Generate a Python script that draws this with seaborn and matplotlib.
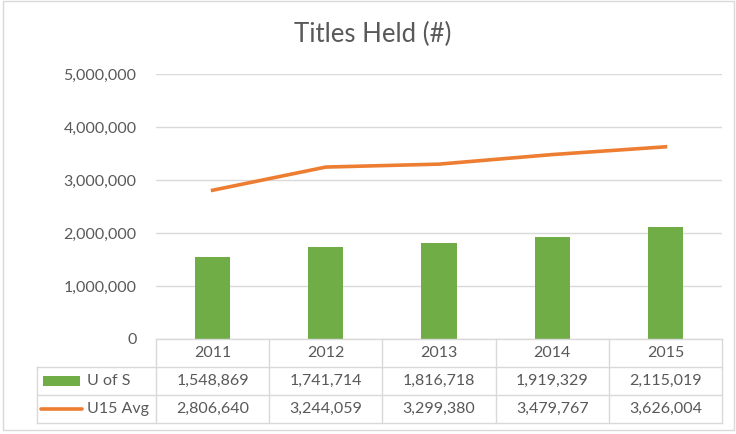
import matplotlib
matplotlib.use("Agg")
import matplotlib.pyplot as plt
import seaborn as sns
import pandas as pd
import numpy as np
from matplotlib.patches import Rectangle

years = ["2011", "2012", "2013", "2014", "2015"]
u_of_s = [1548869, 1741714, 1816718, 1919329, 2115019]
u15_avg = [2806640, 3244059, 3299380, 3479767, 3626004]
series_names = ["U of S", "U15 Avg"]
title = "Titles Held (#)"
yticks = [0, 1000000, 2000000, 3000000, 4000000, 5000000]

GREEN = "#70AD47"
ORANGE = "#ED7D31"
GRID = "#D9D9D9"
TXT = "#595959"

plt.rcParams["font.family"] = ["Lato", "DejaVu Sans"]
FS = 11.5

W, H = 736, 434
fig = plt.figure(figsize=(W / 100, H / 100), dpi=100)

L, R, T, B = 156, 722, 74, 339
ax = fig.add_axes([L / W, 1 - B / H, (R - L) / W, (B - T) / H])
df = pd.DataFrame({"year": years, series_names[0]: u_of_s, series_names[1]: u15_avg})
sns.barplot(data=df, x="year", y=series_names[0], color=GREEN, width=0.31,
            saturation=1, ax=ax, zorder=3)
sns.lineplot(x=np.arange(len(years)), y=df[series_names[1]].values, color=ORANGE,
             lw=2.6, ax=ax, zorder=4)
ax.set_xlim(-0.5, len(years) - 0.5)
ax.set_ylim(0, yticks[-1])
ax.set_yticks(yticks)
ax.set_yticklabels([f"{v:,}" for v in yticks], color=TXT, fontsize=FS)
ax.set_xticks([])
ax.set_xlabel("")
ax.set_ylabel("")
ax.yaxis.grid(True, color=GRID, lw=1)
ax.set_axisbelow(True)
for s in ax.spines.values():
    s.set_visible(False)
ax.tick_params(axis="y", length=0, pad=14)

# data table
tab = fig.add_axes([0, 0, 1, 1])
tab.set_xlim(0, W)
tab.set_ylim(H, 0)
tab.axis("off")
tab.patch.set_alpha(0)

rows = [339, 367, 395, 423]
left_tab = 37
n = len(years)
cw = (R - L) / n
cols = [L + k * cw for k in range(n + 1)]

tab.plot([L, R], [rows[0], rows[0]], color=GRID, lw=1)
for y in rows[1:]:
    tab.plot([left_tab, R], [y, y], color=GRID, lw=1)
tab.plot([left_tab, left_tab], [rows[1], rows[3]], color=GRID, lw=1)
for x in cols:
    tab.plot([x, x], [rows[0], rows[3]], color=GRID, lw=1)

for k, yr in enumerate(years):
    cx = (cols[k] + cols[k + 1]) / 2
    tab.text(cx, (rows[0] + rows[1]) / 2, yr, ha="center", va="center", color=TXT, fontsize=FS)
    tab.text(cx, (rows[1] + rows[2]) / 2, f"{u_of_s[k]:,}", ha="center", va="center", color=TXT, fontsize=FS)
    tab.text(cx, (rows[2] + rows[3]) / 2, f"{u15_avg[k]:,}", ha="center", va="center", color=TXT, fontsize=FS)

ym1 = (rows[1] + rows[2]) / 2
ym2 = (rows[2] + rows[3]) / 2
tab.add_patch(Rectangle((43, ym1 - 5), 37, 10, color=GREEN, lw=0))
tab.plot([41, 82], [ym2, ym2], color=ORANGE, lw=2.6, solid_capstyle="round")
tab.text(87, ym1, series_names[0], ha="left", va="center", color=TXT, fontsize=FS)
tab.text(87, ym2, series_names[1], ha="left", va="center", color=TXT, fontsize=FS)

tab.add_patch(Rectangle((3, 1), 731, 429, fill=False, edgecolor=GRID, lw=1))
tab.text(373, 34, title, ha="center", va="center", color=TXT, fontsize=18.5)

fig.savefig("out.png", dpi=100)
